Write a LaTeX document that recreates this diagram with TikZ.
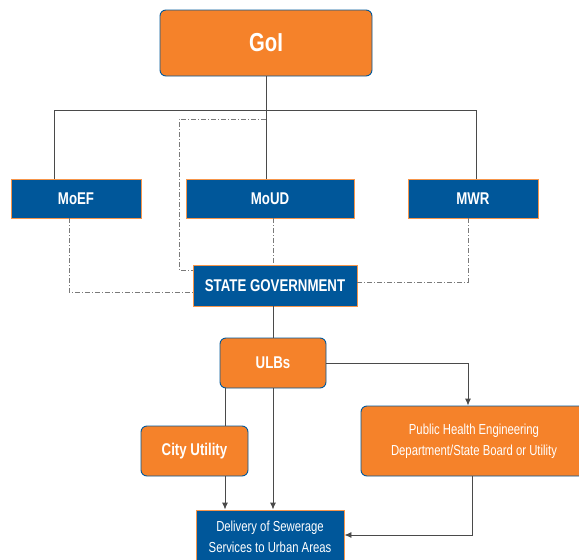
\documentclass[tikz,border=0pt]{standalone}
\usepackage{fontspec}
\setmainfont{Liberation Sans}[FakeStretch=0.78]
\usetikzlibrary{arrows.meta}
\definecolor{org}{HTML}{F5822A}
\definecolor{blu}{HTML}{00579A}
\definecolor{ln}{HTML}{4A4A4A}
\definecolor{dl}{HTML}{7A7A7A}

\begin{document}
\begin{tikzpicture}[x=1pt,y=-1pt,
  obox/.style={draw=blu, line width=0.9pt, fill=org, rounded corners=6pt, text=white, inner sep=0pt, align=center},
  bbox/.style={draw=org!85, line width=0.9pt, fill=blu, text=white, inner sep=0pt, align=center},
  link/.style={draw=ln, line width=0.9pt},
  arr/.style={link, -{Latex[length=7pt,width=6pt]}},
  dd/.style={draw=dl, line width=0.7pt, dash pattern=on 5pt off 2pt on 1pt off 2pt},
  big/.style={font=\bfseries\fontsize{26}{30}\selectfont},
  mid/.style={font=\bfseries\fontsize{17}{20}\selectfont},
  small/.style={font=\fontsize{14.5}{21}\selectfont}]
\useasboundingbox (0,0) rectangle (579,560);
\clip (0,0) rectangle (579,560);

% boxes
\node[obox, big, minimum width=212pt, minimum height=66pt] (goi) at (266,43) {GoI};
\node[bbox, mid, minimum width=130pt, minimum height=39pt] (moef) at (76,198.5) {MoEF};
\node[bbox, mid, minimum width=168pt, minimum height=39pt] (moud) at (270,198.5) {MoUD};
\node[bbox, mid, minimum width=130pt, minimum height=39pt] (mwr) at (473,198.5) {MWR};
\node[bbox, mid, minimum width=164pt, minimum height=41pt] (state) at (275,285.5) {STATE GOVERNMENT};
\node[obox, mid, minimum width=106pt, minimum height=50pt] (ulbs) at (273,363) {ULBs};
\node[obox, mid, minimum width=107pt, minimum height=50pt] (city) at (194.5,451) {City Utility};
\node[obox, small, minimum width=226pt, minimum height=70pt] (phe) at (474,441) {Public Health Engineering\\Department/State Board or Utility};
\node[bbox, small, minimum width=148pt, minimum height=54pt] (deliv) at (270,537) {Delivery of Sewerage\\Services to Urban Areas};

% reporting lines from GoI
\coordinate (busL) at (54,110);
\coordinate (busR) at (476,110);
\draw[link] (goi.south) -- (goi.south |- moud.north);
\draw[link] (moef.north -| busL) -- (busL) -- (busR) -- (busR |- mwr.north);

% coordination links to the state government
\coordinate (dA) at (179,119);
\coordinate (dB) at (179,270);
\coordinate (dC) at (69,292);
\coordinate (dD) at (468,282);
\draw[dd] (goi.south |- dA) -- (dA) -- (dB) -- (dB -| state.west);
\draw[dd] (moef.south -| dC) -- (dC) -- (dC -| state.west);
\draw[dd] (moud.south -| ulbs.north) -- (state.north -| ulbs.north);
\draw[dd] (mwr.south -| dD) -- (dD) -- (dD -| state.east);

% local level
\coordinate (dE) at (468,0);
\coordinate (cx) at (225,0);
\coordinate (py) at (472,535);
\draw[link] (ulbs.north |- state.south) -- (ulbs.north);
\draw[arr] (ulbs.east) -- (ulbs.east -| dE) -- (dE |- phe.north);
\draw[link] (ulbs.south -| cx) -- (city.north -| cx);
\draw[arr] (city.south -| cx) -- (deliv.north -| cx);
\draw[arr] (ulbs.south) -- (ulbs.south |- deliv.north);
\draw[arr] (phe.south -| py) -- (py) -- (py -| deliv.east);
\end{tikzpicture}
\end{document}
